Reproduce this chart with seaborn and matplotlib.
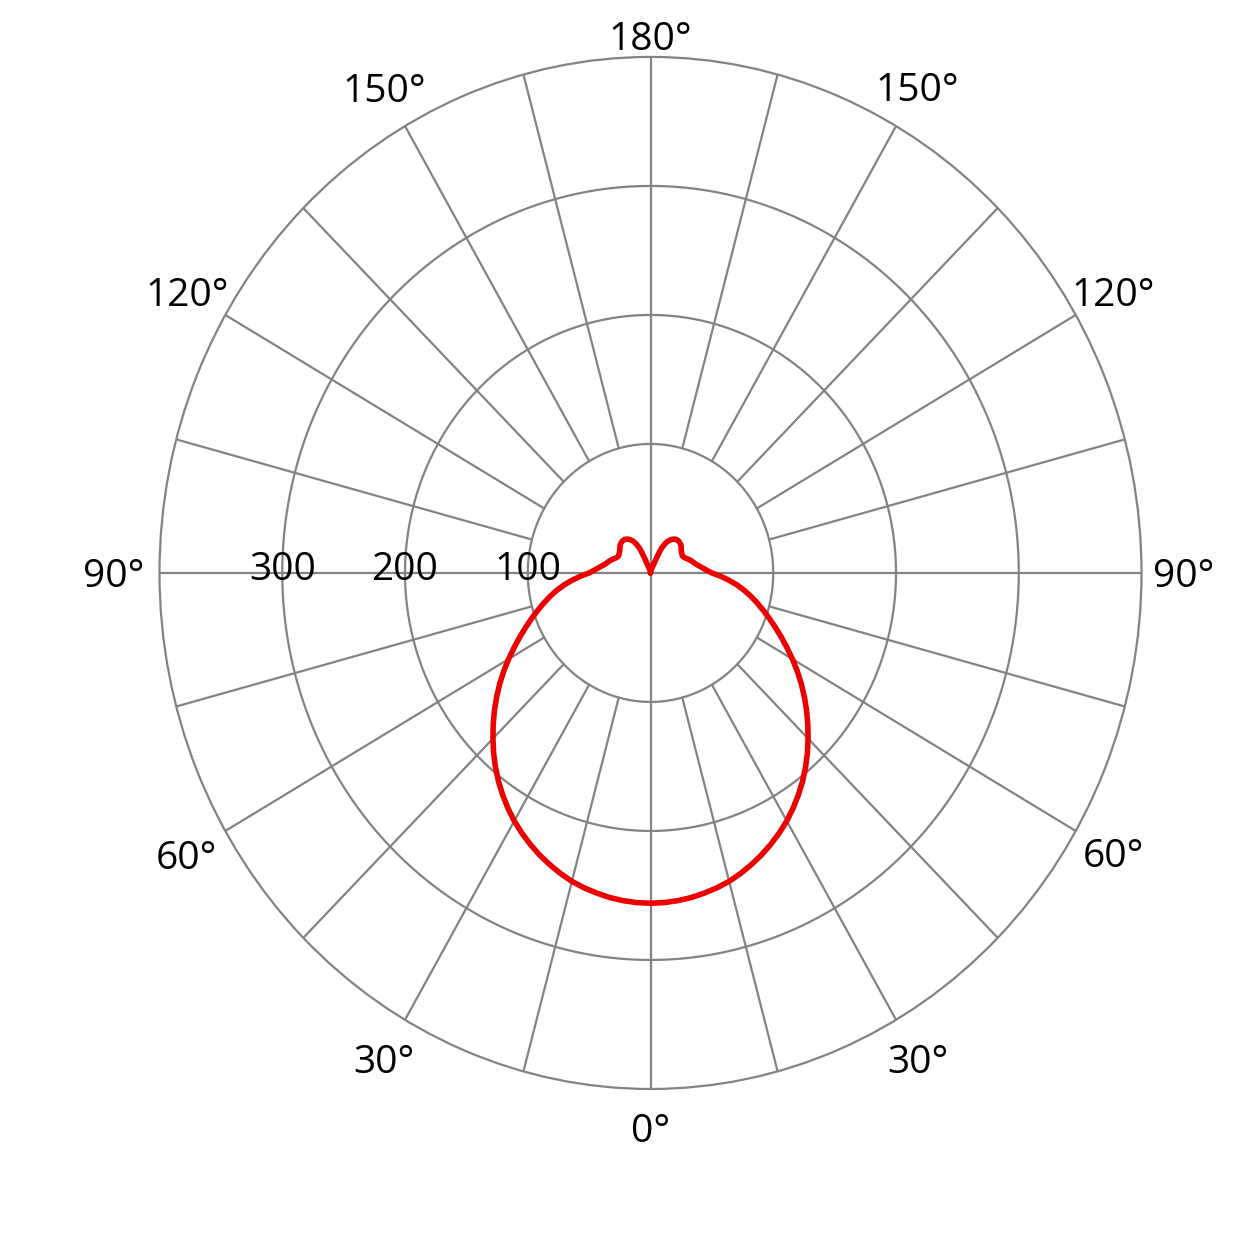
import numpy as np
import pandas as pd
import seaborn as sns
import matplotlib.pyplot as plt

sns.set_theme(style='white')
plt.rcParams['font.family'] = ['Open Sans', 'DejaVu Sans']

# intensity, from nadir (0) up to zenith (180), both halves alike
angles_deg = [0, 2.5, 5, 7.5, 10, 12.5, 15, 17.5, 20, 22.5, 25, 27.5, 30, 32.5, 35, 37.5,
              40, 42.5, 45, 47.5, 50, 52.5, 55, 57.5, 60, 62.5, 65, 67.5, 70, 72.5, 75, 77.5,
              80, 82.5, 85, 87.5, 90, 92.5, 95, 97.5, 100, 102.5, 105, 107.5, 110, 112.5,
              115, 117.5, 120, 122.5, 125, 127.5, 130, 132.5, 135, 137.5, 140, 142.5, 145,
              147.5, 150, 152.5, 155, 156, 157, 158, 159, 160, 165, 170, 175, 180]
intensity = [256, 255.8, 255, 253.8, 252, 250, 247.5, 244.2, 240.5, 236.5, 232, 227.2, 222, 216.2, 210, 203.5,
             196.5, 189.2, 181.5, 173.8, 166, 158, 150, 141.8, 133.5, 125.3, 117.5, 110, 103, 96.3, 90, 83.8,
             77.5, 71, 64, 57, 50, 46, 43, 40.3, 38, 36.3, 35, 33.5, 32, 30.5,
             29.5, 29.2, 29.5, 30, 30.5, 31.5, 32.5, 33.2, 33.5, 33.8, 33.5, 33, 32,
             30.5, 28.5, 25.5, 21, 17, 13, 9.5, 7, 5.5, 3, 1.5, 0.5, 0]

ring_values = [100, 200, 300]
ring_labels = ['100', '200', '300']
r_max = 400

angle_ticks = [0, 30, 60, 90, 120, 150, 180, -150, -120, -90, -60, -30]
angle_tick_labels = ['0°', '30°', '60°', '90°', '120°', '150°', '180°',
                     '150°', '120°', '90°', '60°', '30°']
label_radius = [430, 435, 435, 434, 435, 435, 416, 434, 436, 437, 437, 435]

grid_color = '#838383'
curve_color = '#ec0000'

# build the full curve: left half mirrored from the right one
theta = np.radians(np.concatenate([-np.array(angles_deg[::-1]), np.array(angles_deg[1:])]))
r = np.concatenate([np.array(intensity[::-1]), np.array(intensity[1:])])
df = pd.DataFrame({'theta': theta, 'r': r})

fig = plt.figure(figsize=(12.54, 12.54), dpi=100)
fig.patch.set_facecolor('white')
ax = fig.add_axes([0.1272, 0.1316, 0.7831, 0.8230], projection='polar')
ax.set_aspect('auto')
ax.set_theta_zero_location('S')
ax.set_ylim(0, r_max)
ax.set_xticks([])
ax.set_yticks([])
ax.grid(False)
ax.set_facecolor('white')
ax.spines['polar'].set_color(grid_color)
ax.spines['polar'].set_linewidth(1.6)

# rings
theta_fine = np.linspace(0, 2 * np.pi, 721)
for rv in ring_values:
    ax.plot(theta_fine, np.full_like(theta_fine, rv), color=grid_color, lw=1.6, zorder=1)

# spokes every 15 deg, only the main axes go through the centre
for a in range(0, 360, 15):
    r0 = 0 if a % 90 == 0 else ring_values[0]
    ax.plot([np.radians(a)] * 2, [r0, r_max], color=grid_color, lw=1.6, zorder=1)

sns.lineplot(data=df, x='theta', y='r', ax=ax, sort=False, estimator=None,
             color=curve_color, linewidth=4, zorder=3)
ax.lines[-1].set_solid_joinstyle('round')
ax.set_xlabel('')
ax.set_ylabel('')

for rv, lab in zip(ring_values, ring_labels):
    ax.annotate(lab, xy=(np.radians(-90), rv), xytext=(0, -5), textcoords='offset points',
                ha='center', va='baseline', fontsize=28, color='black',
                annotation_clip=False, zorder=4)

for a, lab, rl in zip(angle_ticks, angle_tick_labels, label_radius):
    ax.annotate(lab, xy=(np.radians(a), rl), xytext=(0, -10), textcoords='offset points',
                ha='center', va='baseline', fontsize=28, color='black',
                annotation_clip=False, zorder=4)

fig.savefig('out.png', dpi=100, facecolor='white')
